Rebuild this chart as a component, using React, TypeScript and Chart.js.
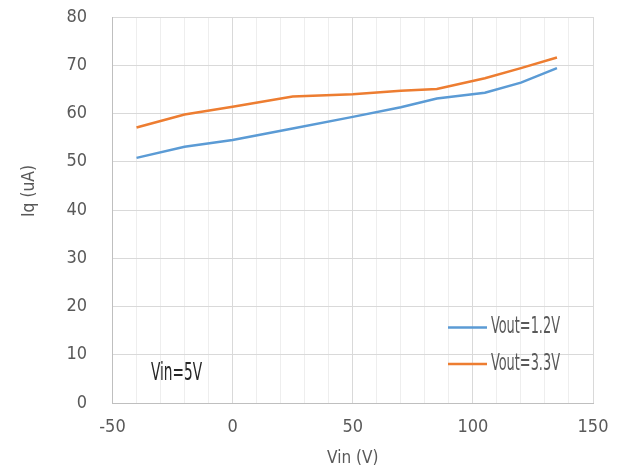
import { useEffect, useRef } from 'react';
import { Chart, registerables } from 'chart.js';

Chart.register(...registerables);

const vinValues = [-40, -20, 0, 25, 50, 70, 85, 105, 120, 135];
const vout12Values = [50.8, 53.1, 54.5, 56.9, 59.3, 61.3, 63.1, 64.3, 66.4, 69.4];
const vout33Values = [57.1, 59.8, 61.4, 63.5, 64.0, 64.7, 65.1, 67.3, 69.4, 71.6];
const seriesNames = ['Vout=1.2V', 'Vout=3.3V'];
const seriesColors = ['#5B9BD5', '#ED7D31'];
const xTickLabels = ['-50', '0', '50', '100', '150'];
const yTickLabels = ['0', '10', '20', '30', '40', '50', '60', '70', '80'];
const xTitle = 'Vin (V)';
const yTitle = 'Iq (uA)';
const noteText = 'Vin=5V';

const FONT = '"Liberation Sans Narrow", "DejaVu Sans Condensed", "Roboto", sans-serif';

function condensedText(ctx: any, text: string, x: number, y: number, size: number, targetWidth: number, color: string) {
  ctx.save();
  ctx.font = `${size}px ${FONT}`;
  ctx.fillStyle = color;
  ctx.textAlign = 'left';
  ctx.textBaseline = 'middle';
  const w = ctx.measureText(text).width;
  const s = Math.min(1, targetWidth / w);
  ctx.translate(x, y);
  ctx.scale(s, 1);
  ctx.fillText(text, 0, 0);
  ctx.restore();
}

const overlayPlugin = {
  id: 'overlay',
  afterDraw(chart: any) {
    const { ctx, chartArea } = chart;
    const { left, bottom } = chartArea;
    ctx.save();
    const rows = [bottom - 75.5, bottom - 39];
    seriesNames.forEach((name, i) => {
      const y = rows[i];
      ctx.strokeStyle = seriesColors[i];
      ctx.lineWidth = 2.5;
      ctx.beginPath();
      ctx.moveTo(left + 335.5, y);
      ctx.lineTo(left + 374.5, y);
      ctx.stroke();
      condensedText(ctx, name, left + 378.5, y, 23, 69, '#595959');
    });
    condensedText(ctx, noteText, left + 38.5, bottom - 29, 24, 51, '#262626');
    ctx.translate(21, 183);
    ctx.rotate(-Math.PI / 2);
    ctx.fillStyle = '#595959';
    ctx.font = `18px ${FONT}`;
    ctx.textAlign = 'center';
    ctx.textBaseline = 'middle';
    const w = ctx.measureText(yTitle).width;
    ctx.scale(Math.min(1, 52 / w), 1);
    ctx.fillText(yTitle, 0, 0);
    ctx.restore();
  },
};

export default function App() {
  const ref = useRef<HTMLCanvasElement>(null);
  useEffect(() => {
    if (!ref.current) return;
    const chart = new Chart(ref.current, {
      type: 'scatter',
      data: {
        datasets: [
          {
            label: seriesNames[0],
            data: vinValues.map((x, i) => ({ x, y: vout12Values[i] })),
            borderColor: seriesColors[0],
            backgroundColor: seriesColors[0],
            showLine: true,
            borderWidth: 2.5,
            pointRadius: 0,
            tension: 0,
          },
          {
            label: seriesNames[1],
            data: vinValues.map((x, i) => ({ x, y: vout33Values[i] })),
            borderColor: seriesColors[1],
            backgroundColor: seriesColors[1],
            showLine: true,
            borderWidth: 2.5,
            pointRadius: 0,
            tension: 0,
          },
        ],
      },
      options: {
        animation: false,
        responsive: true,
        maintainAspectRatio: false,
        devicePixelRatio: 1,
        layout: { padding: { left: 0, top: 9, right: 21, bottom: 0 } },
        plugins: {
          legend: { display: false },
          tooltip: { enabled: false },
        },
        scales: {
          x: {
            type: 'linear',
            min: -50,
            max: 150,
            afterFit(scale: any) {
              scale.height = 64;
              scale.paddingLeft = 0;
              scale.paddingRight = 0;
            },
            ticks: {
              stepSize: 10,
              autoSkip: false,
              maxRotation: 0,
              padding: 14,
              color: '#595959',
              font: { family: FONT, size: 18 },
              callback: (v: any) => (xTickLabels.includes(String(v)) ? String(v) : ''),
            },
            grid: {
              drawTicks: false,
              color: (c: any) => (c.tick && c.tick.value % 50 === 0 ? '#d9d9d9' : '#eeeeee'),
              lineWidth: 1,
            },
            border: { display: true, color: '#bfbfbf', width: 1 },
            title: {
              display: true,
              text: xTitle,
              color: '#595959',
              font: { family: FONT, size: 17, lineHeight: 1 },
              padding: { top: 0, bottom: 0 },
            },
          },
          y: {
            type: 'linear',
            min: 0,
            max: 80,
            afterFit(scale: any) {
              scale.width = 104.5;
              scale.paddingTop = 0;
              scale.paddingBottom = 0;
            },
            ticks: {
              stepSize: 10,
              padding: 25.5,
              color: '#595959',
              font: { family: FONT, size: 18 },
              callback: (v: any) => (yTickLabels.includes(String(v)) ? String(v) : ''),
            },
            grid: { drawTicks: false, color: '#d9d9d9', lineWidth: 1 },
            border: { display: true, color: '#bfbfbf', width: 1 },
          },
        },
      },
      plugins: [overlayPlugin],
    });
    return () => chart.destroy();
  }, []);
  return (
    <div style={{ position: 'relative', width: 606, height: 459 }}>
      <canvas ref={ref} />
    </div>
  );
}
